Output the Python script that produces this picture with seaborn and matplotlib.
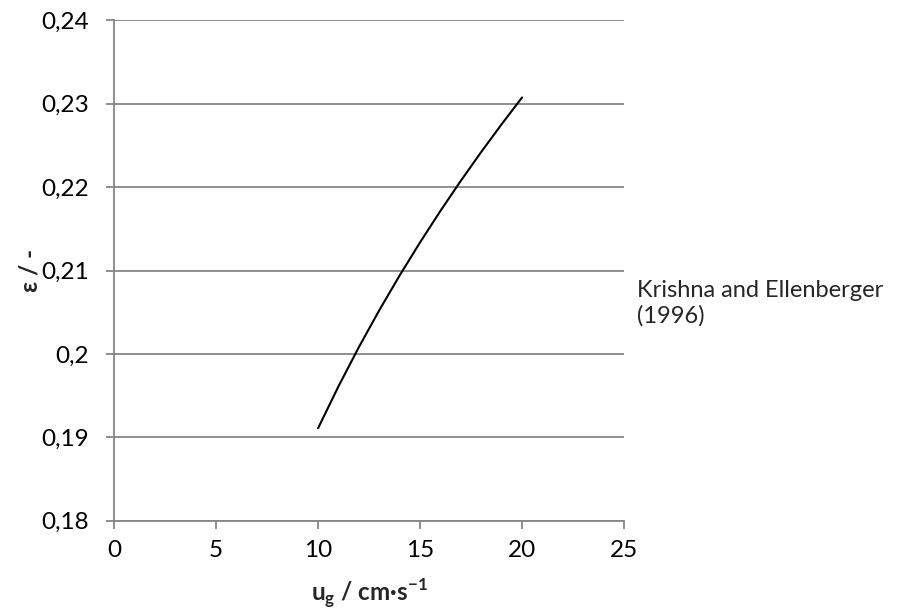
import matplotlib
matplotlib.use("Agg")
import matplotlib.pyplot as plt
from matplotlib.ticker import FuncFormatter
import seaborn as sns
import pandas as pd

# Gas holdup vs. superficial gas velocity
ug = [10, 11, 12, 13, 14, 15, 16, 17, 18, 19, 20]
holdup = [0.19110, 0.19612, 0.20082, 0.20524, 0.20942, 0.21338,
          0.21716, 0.22077, 0.22423, 0.22755, 0.23075]
series_label = "Krishna and Ellenberger\n(1996)"

x_ticks = [0, 5, 10, 15, 20, 25]
y_ticks = [0.18, 0.19, 0.20, 0.21, 0.22, 0.23, 0.24]

df = pd.DataFrame({"ug": ug, "eps": holdup})

sns.set_theme(style="white")
plt.rcParams["font.family"] = ["Lato", "DejaVu Sans"]

fig = plt.figure(figsize=(8.98, 6.13), dpi=100)
ax = fig.add_axes([0.127, 0.1504, 0.568, 0.8165])

grid_col = "#868686"
sns.lineplot(data=df, x="ug", y="eps", ax=ax, color="black", linewidth=1.5,
             label=series_label)

ax.set_xlim(x_ticks[0], x_ticks[-1])
ax.set_ylim(y_ticks[0], y_ticks[-1])
ax.set_xticks(x_ticks)
ax.set_yticks(y_ticks)

def comma_fmt(v, pos):
    return f"{round(v, 4):g}".replace(".", ",")

ax.yaxis.set_major_formatter(FuncFormatter(comma_fmt))
ax.xaxis.set_major_formatter(FuncFormatter(comma_fmt))

ax.yaxis.grid(True, color=grid_col, linewidth=1.3)
ax.xaxis.grid(False)
ax.set_axisbelow(True)

for side in ["top", "right"]:
    ax.spines[side].set_visible(False)
for side in ["left", "bottom"]:
    ax.spines[side].set_color(grid_col)
    ax.spines[side].set_linewidth(1.3)

ax.tick_params(axis="both", which="major", direction="out", length=6,
               width=1.3, color=grid_col, labelsize=17.5, labelcolor="black",
               left=True, bottom=True)
ax.tick_params(axis="y", pad=12)
ax.tick_params(axis="x", pad=8)

ax.set_xlabel("u$_\\mathregular{g}$ / cm·s$^\\mathregular{-1}$",
              fontsize=17.5, fontweight="bold", labelpad=11)
ax.set_ylabel("ε / -", fontsize=17.5, fontweight="bold", labelpad=0)

leg = ax.legend(loc="center left", bbox_to_anchor=(1.0, 0.435),
                frameon=False, handlelength=0, handletextpad=0,
                fontsize=17, borderaxespad=0.15, labelspacing=0.2)
for h in leg.legend_handles:
    h.set_visible(False)

fig.savefig("out.png", dpi=100)
